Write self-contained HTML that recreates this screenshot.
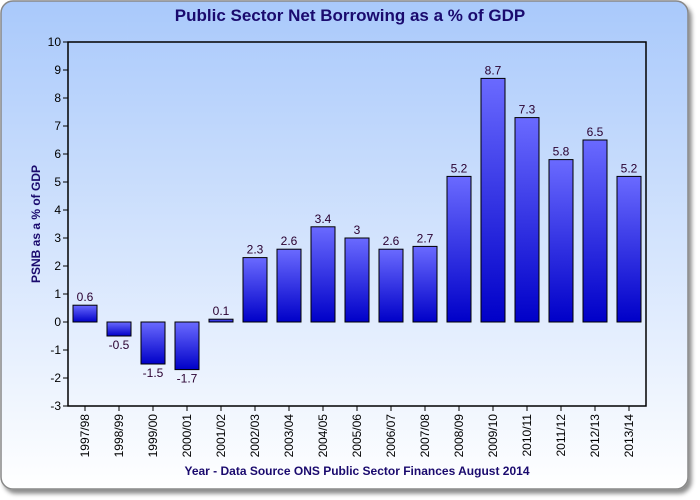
<!DOCTYPE html>
<html><head><meta charset="utf-8"><style>
body{margin:0;width:700px;height:500px;background:#fff;overflow:hidden}
svg{display:block;font-family:"Liberation Sans",sans-serif}
</style></head><body>
<svg id="chart" width="700" height="500">
<defs>
<linearGradient id="bg" x1="0" y1="0" x2="0" y2="1"><stop offset="0" stop-color="#a9c9fb"/><stop offset="1" stop-color="#ffffff"/></linearGradient>
<linearGradient id="bar" x1="0" y1="0" x2="0" y2="1"><stop offset="0" stop-color="#6a6aff"/><stop offset="1" stop-color="#0000c8"/></linearGradient>
<filter id="sh" x="-5%" y="-5%" width="110%" height="110%"><feDropShadow dx="3" dy="4" stdDeviation="2" flood-color="#000" flood-opacity="0.45"/></filter>
</defs>
<rect x="1" y="1" width="687" height="488" rx="12" fill="url(#bg)" stroke="#888" stroke-width="1.5" filter="url(#sh)"/>
<text x="350" y="21" text-anchor="middle" font-size="17" font-weight="bold" fill="#1a0a6e">Public Sector Net Borrowing as a % of GDP</text>
<text transform="translate(40,224) rotate(-90)" text-anchor="middle" font-size="12" font-weight="bold" fill="#1a0a6e">PSNB as a % of GDP</text>
<text x="357" y="475" text-anchor="middle" font-size="12" font-weight="bold" fill="#1a0a6e">Year - Data Source ONS Public Sector Finances August 2014</text>
<g id="plot"></g>
</svg>
<script>
const categories=["1997/98","1998/99","1999/00","2000/01","2001/02","2002/03","2003/04","2004/05","2005/06","2006/07","2007/08","2008/09","2009/10","2010/11","2011/12","2012/13","2013/14"];
const values=[0.6,-0.5,-1.5,-1.7,0.1,2.3,2.6,3.4,3,2.6,2.7,5.2,8.7,7.3,5.8,6.5,5.2];
const yTicks=[-3,-2,-1,0,1,2,3,4,5,6,7,8,9,10];
const X0=68,X1=646,Y0=42,Y1=406,YMIN=-3,YMAX=10;
const bw=(X1-X0)/categories.length;
const y=v=>Y1-(v-YMIN)/(YMAX-YMIN)*(Y1-Y0);
const xc=i=>X0+bw*(i+0.5);
const NS="http://www.w3.org/2000/svg";
const g=document.getElementById('plot');
function mk(t,a,txt){const e=document.createElementNS(NS,t);for(const k in a)e.setAttribute(k,a[k]);if(txt!==undefined)e.textContent=txt;g.appendChild(e);return e;}
values.forEach((v,i)=>{
 const top=Math.min(y(v),y(0)),h=Math.abs(y(v)-y(0));
 const r=mk('rect',{x:xc(i)-12,y:top,width:24,height:Math.max(h,1),fill:'url(#bar)',stroke:'#000','stroke-width':1});
 
 
 const ly=v>=0?y(v)-4:y(v)+13;
 const l=mk('text',{x:xc(i),y:ly,'text-anchor':'middle','font-size':12,fill:'#2a0030'},String(v));
 
 
 const t=mk('line',{x1:xc(i),x2:xc(i),y1:Y1,y2:Y1+5,stroke:'#000'});
 
 
 const tl=mk('text',{transform:`translate(${xc(i)+4},${Y1+8}) rotate(-90)`,'text-anchor':'end','font-size':12,fill:'#000'},categories[i]);
 
 
});
yTicks.forEach(v=>{
 const t=mk('line',{x1:X0-5,x2:X0,y1:y(v),y2:y(v),stroke:'#000'});
 
 
 const l=mk('text',{x:X0-7,y:y(v)+4,'text-anchor':'end','font-size':12,fill:'#000'},String(v));
 
 
});
const ax=mk('path',{d:`M${X0},${Y0}H${X1}V${Y1}H${X0}Z`,fill:'none',stroke:'#000','stroke-width':1.5});


</script>
</body></html>
